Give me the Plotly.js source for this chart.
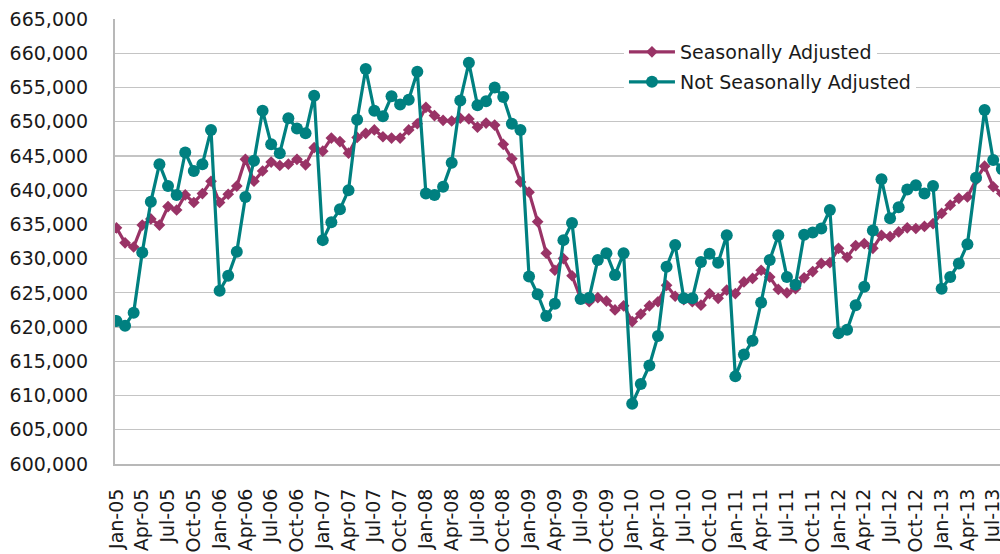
<!DOCTYPE html>
<html>
<head>
<meta charset="utf-8">
<script src="https://cdn.plot.ly/plotly-3.0.1.min.js"></script>
<style>
html,body{margin:0;padding:0;background:#ffffff;}
#chart{width:1000px;height:554px;}
</style>
</head>
<body>
<div id="chart"></div>
<script>
// Month labels (categories) Jan-05 .. Aug-13
const monthNames = ['Jan','Feb','Mar','Apr','May','Jun','Jul','Aug','Sep','Oct','Nov','Dec'];
const yearLabels = ['05','06','07','08','09','10','11','12','13'];
const lastMonthCount = 8; // data for 2013 runs through Aug

const categories = [];
yearLabels.forEach(function (yy, yi) {
  const n = (yi === yearLabels.length - 1) ? lastMonthCount : 12;
  for (let m = 0; m < n; m++) categories.push(monthNames[m] + '-' + yy);
});

// Seasonally Adjusted
const seasonallyAdjusted = [
  634500, 632300, 631700, 634900, 635800, 634900, 637600, 637100, 639300, 638200, 639500, 641300, // 2005
  638200, 639400, 640600, 644500, 641300, 642800, 644100, 643600, 643800, 644500, 643700, 646200, // 2006
  645700, 647600, 647100, 645400, 647700, 648300, 648800, 647800, 647600, 647600, 648800, 649700, // 2007
  652100, 650900, 650200, 650100, 650500, 650400, 649200, 649800, 649500, 646700, 644600, 641200, // 2008
  639700, 635400, 630800, 628300, 630000, 627500, 624200, 623700, 624300, 623800, 622500, 623100, // 2009
  620800, 621900, 623100, 623700, 626100, 624500, 624000, 623700, 623200, 624900, 624200, 625400, // 2010
  624900, 626600, 627100, 628300, 627300, 625500, 625000, 625600, 627200, 628100, 629300, 629400, // 2011
  631500, 630200, 631900, 632200, 631500, 633400, 633200, 633900, 634500, 634400, 634700, 635100, // 2012
  636600, 637800, 638800, 639000, 641500, 643500, 640500, 639500                                  // 2013
];

// Not Seasonally Adjusted
const notSeasonallyAdjusted = [
  620900, 620200, 622100, 630900, 638300, 643800, 640600, 639300, 645500, 642800, 643800, 648800, // 2005
  625300, 627500, 631000, 639000, 644300, 651600, 646700, 645400, 650500, 649000, 648300, 653800, // 2006
  632700, 635300, 637200, 640000, 650300, 657700, 651600, 650800, 653700, 652500, 653200, 657300, // 2007
  639500, 639300, 640500, 644000, 653100, 658600, 652400, 653000, 655000, 653600, 649700, 648800, // 2008
  627400, 624800, 621600, 623400, 632700, 635200, 624100, 624300, 629800, 630800, 627600, 630800, // 2009
  608800, 611700, 614400, 618700, 628800, 632000, 624200, 624200, 629500, 630700, 629400, 633400, // 2010
  612800, 616000, 618000, 623600, 629800, 633400, 627300, 626200, 633500, 633800, 634400, 637100, // 2011
  619100, 619600, 623200, 625900, 634100, 641600, 635900, 637500, 640100, 640700, 639500, 640600, // 2012
  625600, 627300, 629300, 632100, 641800, 651700, 644400, 643100                                  // 2013
];

// x tick labels: every third month (Jan, Apr, Jul, Oct)
const tickLabels = categories.filter(function (c, i) { return i % 3 === 0; });

const seriesNames = ['Seasonally Adjusted', 'Not Seasonally Adjusted'];
const colors = ['#993366', '#008080'];
const FONT = 'DejaVu Sans, sans-serif';

const traces = [
  {
    type: 'scatter', mode: 'lines+markers', name: seriesNames[0],
    x: categories, y: seasonallyAdjusted,
    line: {color: colors[0], width: 3.2},
    marker: {symbol: 'diamond', size: 9, color: colors[0]},
    cliponaxis: true, legend: 'legend'
  },
  {
    type: 'scatter', mode: 'lines+markers', name: seriesNames[1],
    x: categories, y: notSeasonallyAdjusted,
    line: {color: colors[1], width: 3.2},
    marker: {symbol: 'circle', size: 12, color: colors[1]},
    cliponaxis: true, legend: 'legend2'
  }
];

const legendBase = {
  xanchor: 'left', yanchor: 'top',
  bgcolor: '#ffffff', borderwidth: 0,
  itemwidth: 46,
  font: {family: FONT, size: 19, color: '#1a1a1a'}
};

const layout = {
  width: 1000, height: 554,
  margin: {l: 115, r: 0, t: 19, b: 90, pad: 0},
  paper_bgcolor: '#ffffff', plot_bgcolor: '#ffffff',
  font: {family: FONT, size: 19, color: '#1a1a1a'},
  showlegend: true,
  legend: Object.assign({}, legendBase, {x: 0.5751, y: 0.9685}),
  legend2: Object.assign({}, legendBase, {x: 0.5751, y: 0.9011}),
  xaxis: {
    type: 'category',
    range: [-0.17, 102.79],
    tickmode: 'array', tickvals: tickLabels, ticktext: tickLabels,
    tickangle: -90,
    ticks: 'outside', ticklen: 15, tickcolor: 'rgba(0,0,0,0)',
    showgrid: false, zeroline: false,
    showline: true, linecolor: '#b8b8b8', linewidth: 2,
    tickfont: {family: FONT, size: 19, color: '#1a1a1a'},
    fixedrange: true
  },
  yaxis: {
    range: [600000, 665000],
    dtick: 5000, tick0: 600000,
    tickformat: ',d',
    ticks: 'outside', ticklen: 21, tickcolor: 'rgba(0,0,0,0)',
    showgrid: true, gridcolor: '#c4c4c4', gridwidth: 1.2,
    zeroline: false,
    showline: true, linecolor: '#b8b8b8', linewidth: 2,
    tickfont: {family: FONT, size: 19, color: '#1a1a1a'},
    fixedrange: true
  }
};

Plotly.newPlot('chart', traces, layout, {displayModeBar: false, staticPlot: true});
</script>
</body>
</html>
